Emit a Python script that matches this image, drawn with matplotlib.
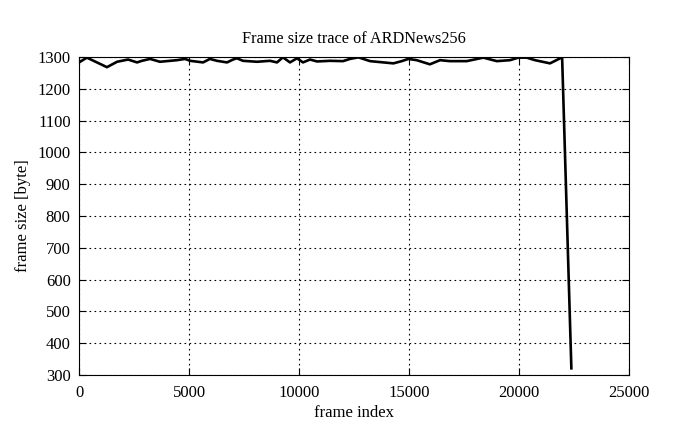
import matplotlib
matplotlib.use("Agg")
import matplotlib.pyplot as plt

# frame size trace
frames = [0, 360, 1270, 1730, 2230, 2640, 2860, 3230, 3680, 4140, 4450, 4820,
          5050, 5640, 5950, 6270, 6730, 7000, 7180, 7450, 8090, 8680, 9000,
          9270, 9590, 9910, 10180, 10500, 10820, 11410, 12000, 12320, 12700,
          13230, 14290, 14670, 14970, 15350, 15950, 16410, 16860, 17620,
          18380, 18990, 19590, 19970, 20350, 20730, 21410, 21960, 22380]
sizes = [1283, 1298, 1268, 1285, 1292, 1283, 1288, 1294, 1285, 1288, 1290, 1294,
         1288, 1283, 1294, 1288, 1283, 1292, 1296, 1288, 1285, 1288, 1283,
         1299, 1283, 1296, 1283, 1292, 1286, 1288, 1287, 1294, 1299,
         1287, 1280, 1287, 1294, 1290, 1277, 1290, 1287, 1287,
         1298, 1287, 1290, 1298, 1298, 1290, 1280, 1299, 321]

xticks = [0, 5000, 10000, 15000, 20000, 25000]
yticks = list(range(300, 1301, 100))

plt.rcParams['font.family'] = ['Liberation Serif', 'DejaVu Serif']
plt.rcParams['font.size'] = 12

fig = plt.figure(figsize=(6.95, 4.29), dpi=100)
ax = fig.add_axes([79 / 695, 1 - 375 / 429, 550 / 695, 318 / 429])

ax.plot(frames, sizes, color="black", linewidth=1.9)

ax.set_xlim(0, 25000)
ax.set_ylim(300, 1300)
ax.set_xticks(xticks)
ax.set_yticks(yticks)
ax.tick_params(direction="in", top=True, right=True, length=5, width=0.8)
ax.tick_params(axis="x", pad=7)
ax.tick_params(axis="y", pad=6)
ax.grid(True, color="black", linestyle=(0, (1.5, 3)), linewidth=0.8)
for s in ax.spines.values():
    s.set_linewidth(0.8)

ax.set_title("Frame size trace of ARDNews256", fontsize=11.7, pad=10)
ax.set_xlabel("frame index", fontsize=12, labelpad=3)
ax.set_ylabel("frame size [byte]", fontsize=12, labelpad=5)

fig.savefig("out.png", dpi=100)
